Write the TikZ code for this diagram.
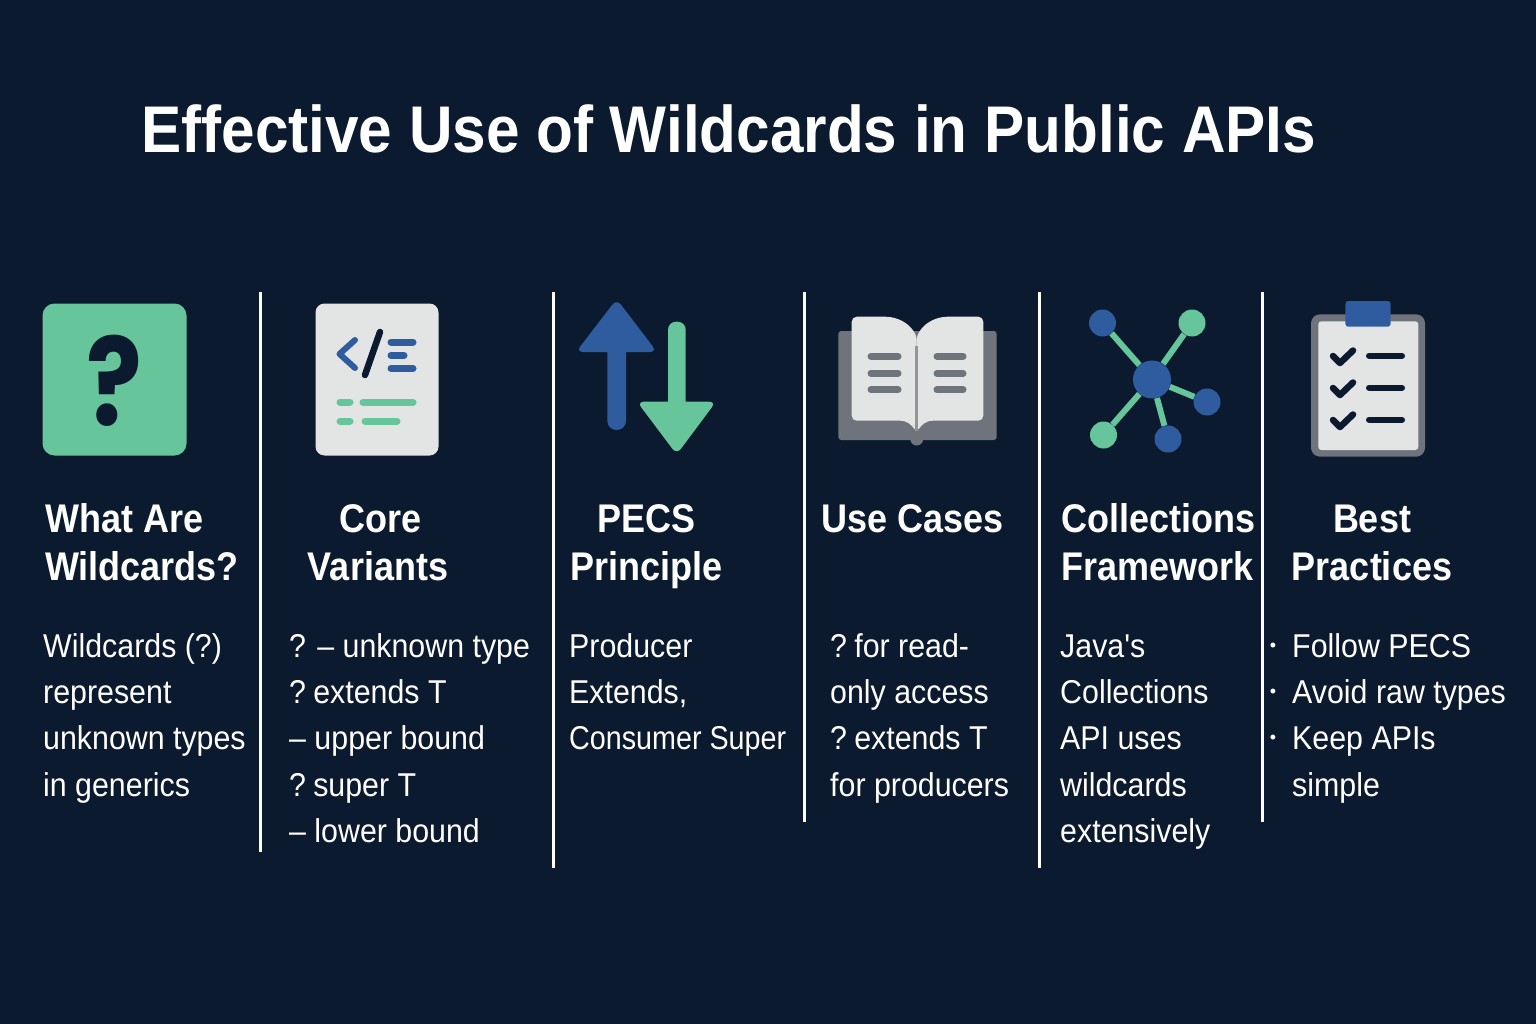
\documentclass[tikz,border=0pt]{standalone}
\usepackage{fontspec}
\setmainfont{Liberation Sans}
\newfontfamily\titlefont[FakeStretch=0.913]{Liberation Sans}
\newfontfamily\headfont[FakeStretch=0.9]{Liberation Sans}
\newfontfamily\bodyfont[FakeStretch=0.92]{Liberation Sans}
\newfontfamily\squeezefont[FakeStretch=0.87]{Liberation Sans}
\newfontfamily\markfont[FakeStretch=0.85]{Poppins}
\newcommand{\qm}{?\hspace{-4pt}}
\usetikzlibrary{backgrounds}
\usetikzlibrary{shapes,positioning}
\definecolor{navybg}{HTML}{0B1A2E}
\definecolor{mint}{HTML}{66C59B}
\definecolor{royal}{HTML}{2E5C9E}
\definecolor{slate}{HTML}{6F747C}
\definecolor{paper}{HTML}{E3E4E4}
\tikzset{
  divider/.style={draw=white,line width=3pt},
  headtext/.style={text=white,anchor=north west,inner sep=0pt,align=left,
    font=\headfont\bfseries\fontsize{40}{48}\selectfont},
  bodytext/.style={text=white,anchor=north west,inner sep=0pt,align=left,
    font=\bodyfont\fontsize{33}{46.3}\selectfont},
  bar/.style={line width=#1,line cap=round},
  hub/.style={circle,fill=royal,inner sep=0pt,minimum size=#1},
  leaf/.style={circle,fill=mint,inner sep=0pt,minimum size=#1},
  link/.style={draw=mint,line width=6pt}
}
\begin{document}
\begin{tikzpicture}[x=1pt,y=-1pt]
  \useasboundingbox (0,0) rectangle (1536,1024);

  \node [text=white,anchor=base west,inner sep=0pt,
    font=\titlefont\bfseries\fontsize{66}{70}\selectfont] (title) at (141,153)
    {Effective Use of Wildcards in Public APIs};

  % dividers
  \draw [divider] (260.5,292) -- (260.5,852);
  \draw [divider] (553.5,292) -- (553.5,868);
  \draw [divider] (804.5,292) -- (804.5,822);
  \draw [divider] (1039.5,292) -- (1039.5,868);
  \draw [divider] (1262,292) -- (1262,822);

  % question icon
  \fill [mint,rounded corners=12pt] (42.5,303.5) rectangle (186.5,455.5);
  \node [text=navybg,inner sep=0pt,font=\markfont\bfseries\fontsize{122}{122}\selectfont] (qmark) at (114.5,380.5) {?};

  % code icon
  \fill [paper,rounded corners=9pt] (315.5,303.5) rectangle (438.5,455.5);
  \draw [bar=6pt,royal,line join=round] (355,340) -- (339.5,354) -- (355,368);
  \draw [bar=6.5pt,navybg] (380,332) -- (365,375);
  \draw [bar=7pt,royal] (391,342) -- (413,342);
  \draw [bar=7pt,royal] (391,355.5) -- (404,355.5);
  \draw [bar=7pt,royal] (391,368.5) -- (413,368.5);
  \draw [bar=7pt,mint] (340,402) -- (350,402);
  \draw [bar=7pt,mint] (363,402) -- (413,402);
  \draw [bar=7pt,mint] (340,421) -- (350,421);
  \draw [bar=7pt,mint] (365,421) -- (397,421);

  % arrows icon
  \fill [royal,rounded corners=7pt] (616.7,299) -- (576,352) -- (657,352) -- cycle;
  \fill [royal,rounded corners=9pt] (607.3,340) rectangle (626,430);
  \fill [mint,rounded corners=8pt] (668,321.7) rectangle (685.7,415);
  \fill [mint,rounded corners=7pt] (637,401.7) -- (716,401.7) -- (676.7,454.5) -- cycle;

  % book icon
  \fill [slate,rounded corners=3pt] (838.3,331) rectangle (996.7,440);
  \fill [slate] (916.7,439) circle (6.5pt);
  \fill [paper,rounded corners=5pt] (851.7,420.7) -- (851.7,316.7) -- (880,316.7)
    .. controls (903,316.7) and (916.7,330) .. (916.7,345) -- (916.7,432)
    .. controls (912,426) and (908,420.7) .. (895,420.7) -- cycle;
  \fill [paper,rounded corners=5pt] (983.3,420.7) -- (983.3,316.7) -- (953,316.7)
    .. controls (930,316.7) and (916.7,330) .. (916.7,345) -- (916.7,432)
    .. controls (921,426) and (925,420.7) .. (938,420.7) -- cycle;
  \draw [slate!70!paper,line width=3pt] (916.7,346) -- (916.7,431);
  \foreach \y in {356.3,373.3,389.7} {
    \draw [bar=7pt,slate] (871,\y) -- (898,\y);
    \draw [bar=7pt,slate] (937,\y) -- (963,\y);
  }

  % network icon
  \node [hub=38pt] (core) at (1152,379.5) {};
  \node [hub=27pt] (nodea) at (1102.5,323) {};
  \node [leaf=27pt] (nodeb) at (1192,323) {};
  \node [hub=27pt] (nodec) at (1207,402) {};
  \node [hub=27pt] (noded) at (1168,439) {};
  \node [leaf=27pt] (nodee) at (1103.5,435) {};
  \begin{scope}[on background layer]
    \fill [navybg] (0,0) rectangle (1536,1024);
    \draw [link] (core) -- (nodea);
    \draw [link] (core) -- (nodeb);
    \draw [link] (core) -- (nodec);
    \draw [link] (core) -- (noded);
    \draw [link] (core) -- (nodee);
  \end{scope}

  % clipboard icon
  \fill [slate,rounded corners=9pt] (1311,314.3) rectangle (1425,456.7);
  \fill [paper,rounded corners=3pt] (1318.3,321.3) rectangle (1418.3,450);
  \fill [royal,rounded corners=3pt] (1345.3,301) rectangle (1390.7,326.7);
  \foreach \y in {0,32,64} {
    \draw [bar=6.5pt,navybg,line join=round] (1333,356+\y) -- (1340,363+\y) -- (1353,350.5+\y);
    \draw [bar=6pt,navybg] (1369,355.7+\y) -- (1402,355.7+\y);
  }

  % headings
  \node [headtext] (whathead) at (45,498.4) {\strut What Are\\Wildcards?};
  \node [headtext,align=center,anchor=north] (corehead) at (378,498.4) {\strut\hspace{5pt}Core\\Variants};
  \node [headtext,align=center,anchor=north] (pecshead) at (646.5,498.4) {\strut PECS\\Principle};
  \node [headtext] (usehead) at (821,498.4) {\strut Use Cases};
  \node [headtext] (collhead) at (1061,498.4) {\strut Collections\\Framework};
  \node [headtext,align=center,anchor=north] (besthead) at (1372,498.4) {\strut Best\hspace{8pt}\\Practices};

  % body
  \node [bodytext] (whatbody) at (43,624.6) {\strut Wildcards (?)\\represent\\unknown types\\in generics};
  \node [bodytext] (corebody) at (289,624.6) {\strut ? – unknown type\\\qm{} extends T\\– upper bound\\\qm{} super T\\– lower bound};
  \node [bodytext] (pecsbody) at (569,624.6) {\strut Producer\\Extends,\\{\squeezefont Consumer Super}};
  \node [bodytext] (usebody) at (830,624.6) {\strut \qm{} for read-\\only access\\\qm{} extends T\\for producers};
  \node [bodytext] (collbody) at (1060,624.6) {\strut Java's\\Collections\\API uses\\wildcards\\extensively};
  \node [bodytext] (bestbody) at (1292,624.6) {\strut Follow PECS\\Avoid raw types\\Keep APIs\\simple};
  \foreach \y/\name in {647/bulleta,693/bulletb,739/bulletc}
    \node [text=white,inner sep=0pt,font=\fontsize{18}{18}\selectfont] (\name) at (1273,\y) {•};
\end{tikzpicture}
\end{document}
